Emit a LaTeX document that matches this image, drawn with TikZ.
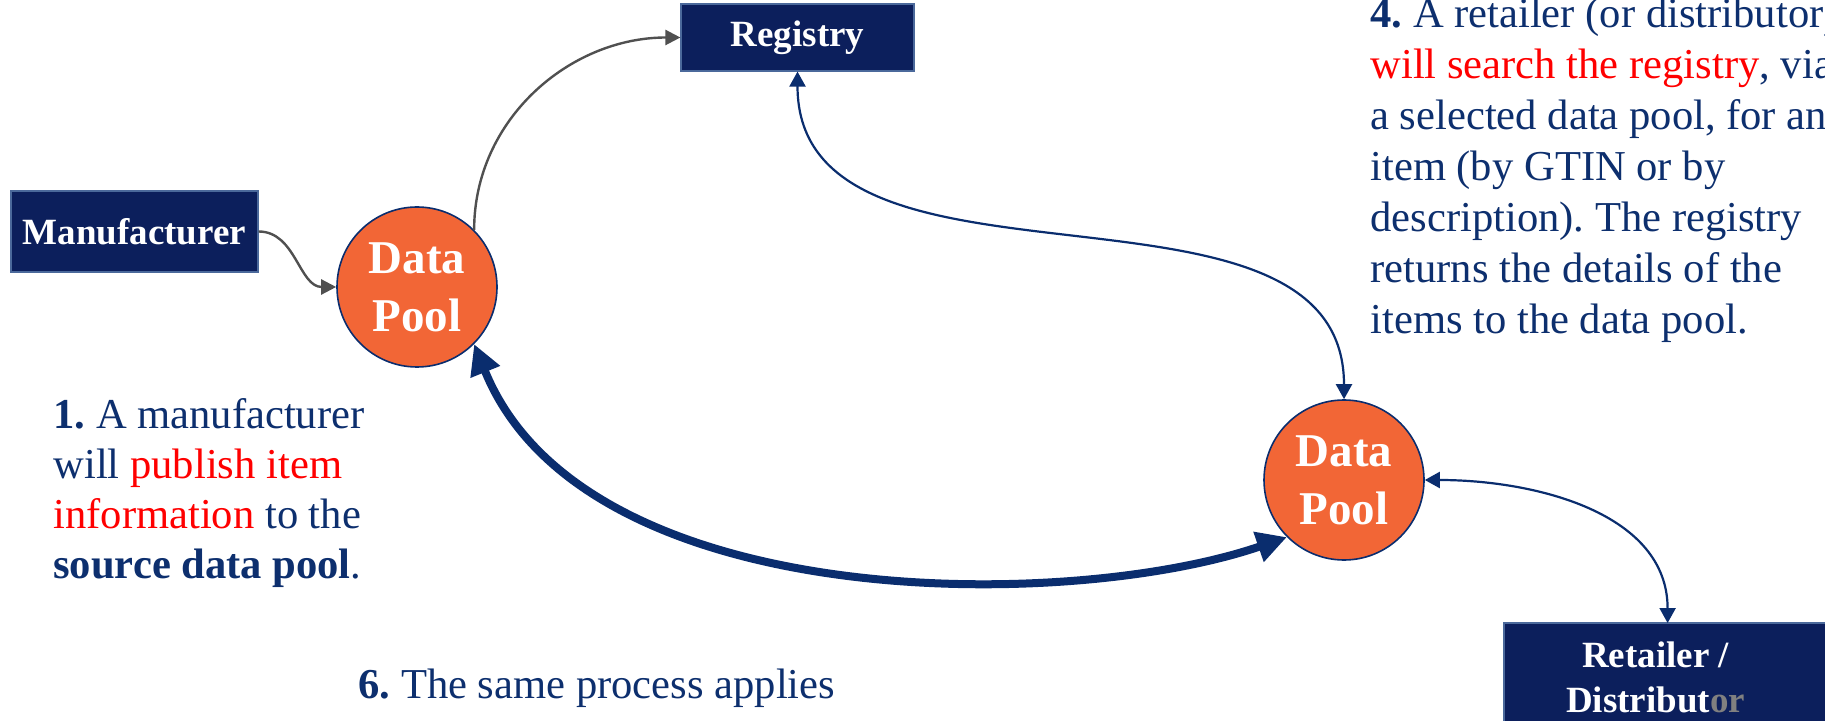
\documentclass[tikz,border=0pt]{standalone}
\usepackage{fontspec}
\setmainfont{Liberation Serif}
\usepackage{xcolor}
\usepackage{tikz}
\usetikzlibrary{arrows.meta}
\usetikzlibrary{calc}

\definecolor{boxnavy}{RGB}{12,31,92}
\definecolor{boxedge}{RGB}{75,105,155}
\definecolor{linenavy}{RGB}{10,45,110}
\definecolor{textnavy}{RGB}{13,47,110}
\definecolor{poolorange}{RGB}{242,102,54}
\definecolor{arrowgray}{RGB}{80,80,80}
\definecolor{fadegray}{RGB}{128,128,128}
\definecolor{hl}{RGB}{255,0,0}
\frenchspacing

\begin{document}
\begin{tikzpicture}[x=0.5pt,y=0.5pt,
  box/.style={fill=boxnavy,draw=boxedge,line width=0.6pt,text=white,inner sep=0pt,
    align=center,font=\bfseries\fontsize{18.5}{22.5}\selectfont},
  pool/.style={circle,fill=poolorange,draw=linenavy,line width=0.8pt,minimum size=80pt,
    inner sep=0pt,text=white,align=center,font=\bfseries\fontsize{23.5}{29}\selectfont},
  note/.style={text=textnavy,inner sep=0pt,align=left},
  grayarrow/.style={draw=arrowgray,line width=1.2pt,-{Triangle[length=7.5pt,width=7.5pt]}},
  thinarrow/.style={draw=linenavy,line width=1.1pt,
    {Triangle[length=7.5pt,width=8pt]}-{Triangle[length=7.5pt,width=8pt]}},
  fatarrow/.style={draw=linenavy,line width=4pt,
    {Triangle[length=15pt,width=15pt]}-{Triangle[length=15pt,width=15pt]}}]
  \useasboundingbox (0,0) rectangle (1825,-721);

  \node (man) [box,minimum width=123.5pt,minimum height=40.5pt] at (134.5,-231.5) {Manufacturer};
  \node (reg) [box,minimum width=116.5pt,minimum height=33.5pt] at (797.5,-37.5) {Registry};
  \node (dpa) [pool] at (417,-287) {Data\\Pool};
  \node (dpb) [pool] at (1344,-480) {Data\\Pool};
  \fill[boxnavy] (1700,-623) rectangle (1840,-760);
  \draw[boxedge,line width=0.6pt] (1700,-623) -- (1840,-623);
  \node (ret) [box,anchor=north west,minimum width=151pt,minimum height=54pt,draw=none]
    at (1504,-623) {Retailer /\\Distribut\textcolor{fadegray}{or}};
  \draw[boxedge,line width=0.6pt] (ret.south west) -- (ret.north west) -- (ret.north east);

  \node (stepa) [note,anchor=north west,font=\fontsize{21.3}{25}\selectfont] at (53,-398)
    {\textbf{1.} A manufacturer\\will \textcolor{hl}{publish item}\\
     \textcolor{hl}{information} to the\\\textbf{source data pool}.};
  \node (stepb) [note,anchor=north west,font=\fontsize{21.3}{25.5}\selectfont] at (1370,2)
    {\textbf{4.} A retailer (or distributor)\\\textcolor{hl}{will search the registry}, via\\
     a selected data pool, for an\\item (by GTIN or by\\description). The registry\\
     returns the details of the\\items to the data pool.};
  \node (stepc) [note,anchor=base west,font=\fontsize{21.3}{25.5}\selectfont] at (358,-698)
    {\textbf{6.} The same process applies};

  \draw[grayarrow] (man.east) to[out=0,in=180] (dpa.west);
  \draw[grayarrow] (dpa.45) to[out=90,in=180] (reg.west);
  \draw[thinarrow] (reg.south) to[out=-90,in=90] (dpb.north);
  \draw[fatarrow] (dpa.-45) to[out=-68,in=199,out looseness=0.9,in looseness=0.7] (dpb.225);
  \draw[thinarrow] (dpb.east) to[out=0,in=90] ([xshift=6pt]ret.north);
\end{tikzpicture}
\end{document}
